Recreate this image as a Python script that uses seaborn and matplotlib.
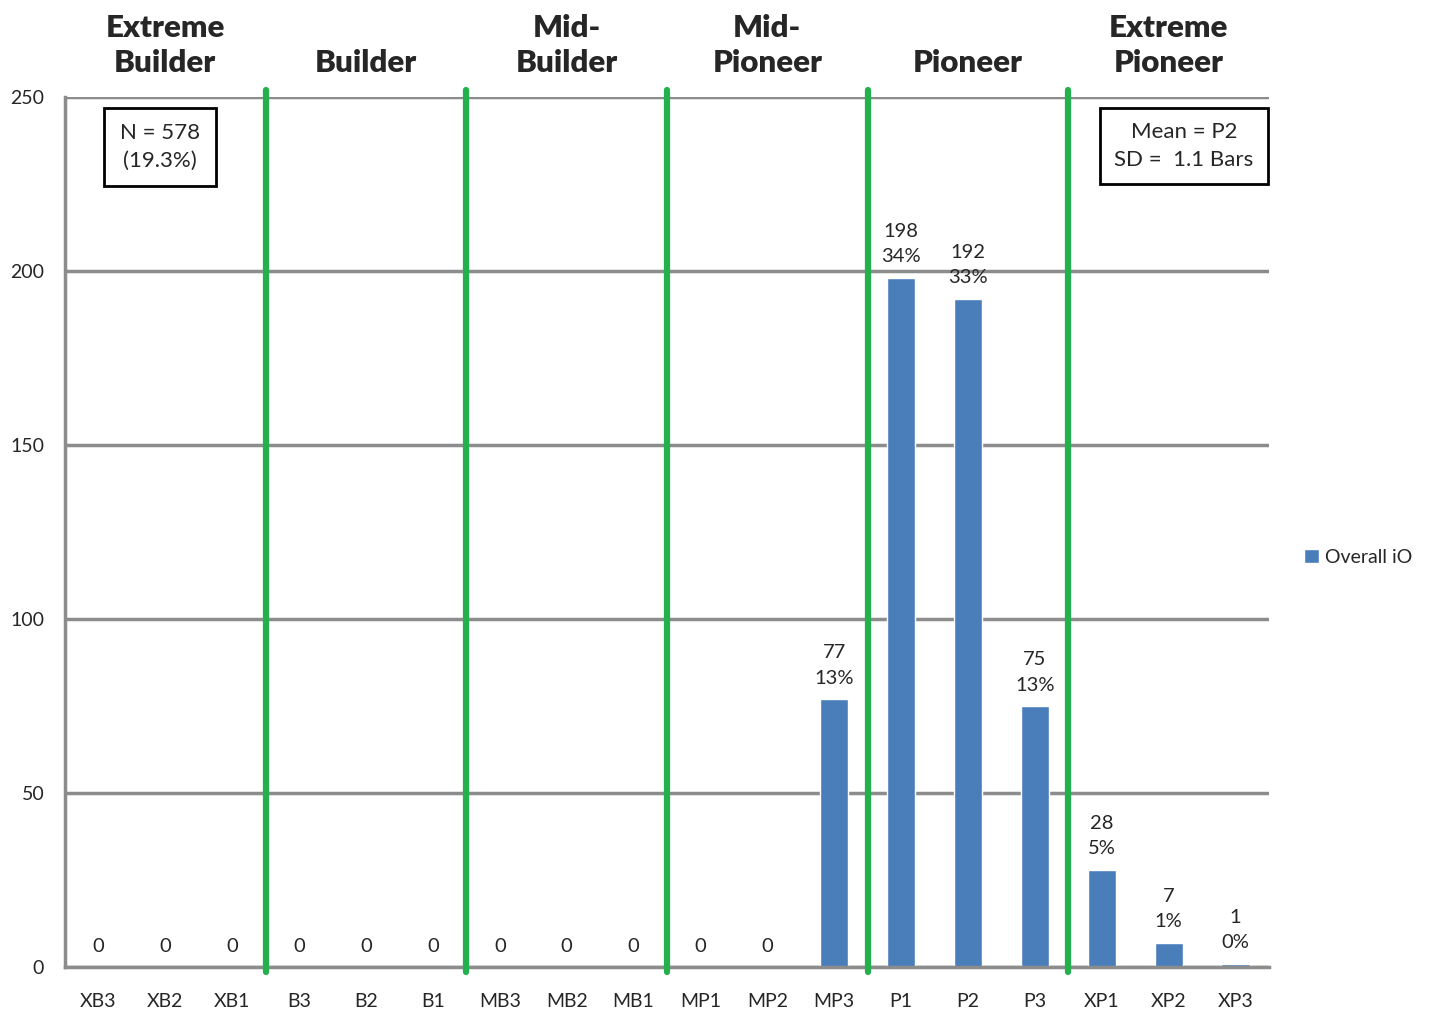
import numpy as np
import pandas as pd
import seaborn as sns
import matplotlib.pyplot as plt
from matplotlib.ticker import FixedLocator

# Data
categories = ["XB3", "XB2", "XB1", "B3", "B2", "B1", "MB3", "MB2", "MB1",
              "MP1", "MP2", "MP3", "P1", "P2", "P3", "XP1", "XP2", "XP3"]
counts = [0, 0, 0, 0, 0, 0, 0, 0, 0, 0, 0, 77, 198, 192, 75, 28, 7, 1]
percents = [None, None, None, None, None, None, None, None, None, None, None,
            13, 34, 33, 13, 5, 1, 0]
groups = ["Extreme\nBuilder", "Builder", "Mid-\nBuilder", "Mid-\nPioneer",
          "Pioneer", "Extreme\nPioneer"]

df = pd.DataFrame({"cat": categories, "count": counts})

sns.set_style("white")
plt.rcParams["font.family"] = ["Lato", "DejaVu Sans"]

bar_color = "#4a7ebb"
grid_color = "#8c8c8c"
green = "#22b14c"

fig = plt.figure(figsize=(14.29, 10.13), dpi=100)
ax = fig.add_axes([0.0455, 0.0454, 0.8425, 0.8588])

sns.barplot(data=df, x="cat", y="count", order=categories, color=bar_color,
            width=0.42, saturation=1, ax=ax, label="Overall iO")

ax.set_xlim(-0.5, len(categories) - 0.5)
ax.set_ylim(0, 250)
ax.set_yticks([0, 50, 100, 150, 200, 250])
ax.yaxis.grid(True, color=grid_color, linewidth=2.5)
ax.set_axisbelow(True)
ax.set_xlabel("")
ax.set_ylabel("")

for side in ["top", "right"]:
    ax.spines[side].set_visible(False)
for side in ["left", "bottom"]:
    ax.spines[side].set_color(grid_color)
    ax.spines[side].set_linewidth(2.5)

# ticks: category labels at centre, marks at boundaries
ax.tick_params(axis="x", which="major", length=0, pad=19, labelsize=14)
ax.xaxis.set_minor_locator(FixedLocator(np.arange(-0.5, len(categories), 1)))
ax.tick_params(axis="x", which="minor", length=7, width=2.5, color=grid_color)
ax.tick_params(axis="y", which="major", length=6, width=2.5, color=grid_color,
               labelsize=14, pad=9)

# green separators between groups
for b in [2.5, 5.5, 8.5, 11.5, 14.5]:
    ax.plot([b, b], [-1.5, 252], color=green, linewidth=4.5, clip_on=False, zorder=5)

# value labels
for i, (c, p) in enumerate(zip(counts, percents)):
    txt = f"{c}" if p is None else f"{c}\n{p}%"
    ax.annotate(txt, (i, c), xytext=(0, 9), textcoords="offset points",
                ha="center", va="bottom", fontsize=14.5, linespacing=1.6)

# group headers
for g, name in enumerate(groups):
    ax.text(3 * g + 1, 1.023, name, transform=ax.get_xaxis_transform(),
            ha="center", va="bottom", fontsize=22.5, fontweight="heavy",
            color="#262626", linespacing=1.3)

# annotation boxes
ax.text(0.92, 0.9425, "N = 578\n(19.3%)", transform=ax.get_xaxis_transform(),
        ha="center", va="center", fontsize=16, linespacing=1.45,
        bbox=dict(boxstyle="square,pad=0.7", facecolor="white", edgecolor="black", linewidth=2))
ax.text(16.23, 0.9437, "Mean = P2\nSD =  1.1 Bars", transform=ax.get_xaxis_transform(),
        ha="center", va="center", fontsize=16, linespacing=1.45,
        bbox=dict(boxstyle="square,pad=0.65", facecolor="white", edgecolor="black", linewidth=2))

ax.legend(loc="center left", bbox_to_anchor=(0.9, 0.45), bbox_transform=fig.transFigure,
          frameon=False, fontsize=14, handlelength=0.8, handleheight=0.8,
          handletextpad=0.3)

fig.savefig("out.png", dpi=100)
